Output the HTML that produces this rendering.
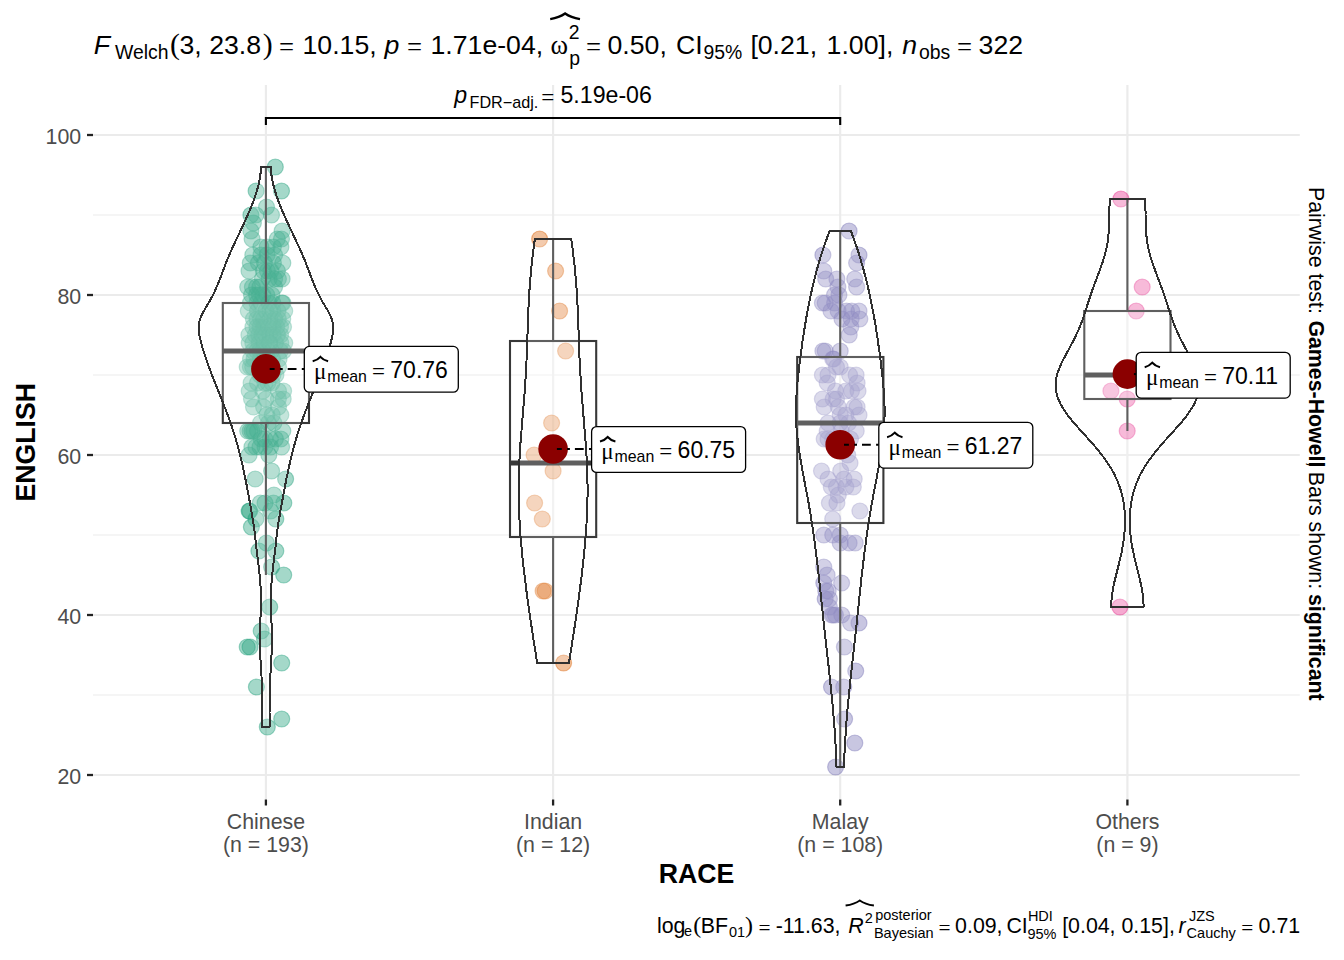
<!DOCTYPE html>
<html><head><meta charset="utf-8"><title>ENGLISH by RACE</title>
<style>html,body{margin:0;padding:0;background:#fff}svg text{font-family:"Liberation Sans",Arial,sans-serif}svg text.sf{font-family:"Liberation Serif","Times New Roman",serif}</style>
</head><body>
<svg width="1344" height="960" viewBox="0 0 1344 960" style="display:block">
<rect width="1344" height="960" fill="#fff"/>
<g stroke="#EBEBEB" fill="none">
<line x1="93.0" x2="1299.8" y1="695.0" y2="695.0" stroke-width="1.2"/>
<line x1="93.0" x2="1299.8" y1="535.0" y2="535.0" stroke-width="1.2"/>
<line x1="93.0" x2="1299.8" y1="375.0" y2="375.0" stroke-width="1.2"/>
<line x1="93.0" x2="1299.8" y1="215.0" y2="215.0" stroke-width="1.2"/>
<line x1="93.0" x2="1299.8" y1="775.0" y2="775.0" stroke-width="2.15"/>
<line x1="93.0" x2="1299.8" y1="615.0" y2="615.0" stroke-width="2.15"/>
<line x1="93.0" x2="1299.8" y1="455.0" y2="455.0" stroke-width="2.15"/>
<line x1="93.0" x2="1299.8" y1="295.0" y2="295.0" stroke-width="2.15"/>
<line x1="93.0" x2="1299.8" y1="135.0" y2="135.0" stroke-width="2.15"/>
<line x1="265.9" x2="265.9" y1="85.0" y2="799.5" stroke-width="2.15"/>
<line x1="553.1" x2="553.1" y1="85.0" y2="799.5" stroke-width="2.15"/>
<line x1="840.2" x2="840.2" y1="85.0" y2="799.5" stroke-width="2.15"/>
<line x1="1127.4" x2="1127.4" y1="85.0" y2="799.5" stroke-width="2.15"/>
</g>
<g stroke="#222" stroke-width="2.3">
<line x1="87.0" x2="93.0" y1="775.0" y2="775.0"/>
<line x1="87.0" x2="93.0" y1="615.0" y2="615.0"/>
<line x1="87.0" x2="93.0" y1="455.0" y2="455.0"/>
<line x1="87.0" x2="93.0" y1="295.0" y2="295.0"/>
<line x1="87.0" x2="93.0" y1="135.0" y2="135.0"/>
<line x1="265.9" x2="265.9" y1="799.5" y2="805.5"/>
<line x1="553.1" x2="553.1" y1="799.5" y2="805.5"/>
<line x1="840.2" x2="840.2" y1="799.5" y2="805.5"/>
<line x1="1127.4" x2="1127.4" y1="799.5" y2="805.5"/>
</g>
<g fill="#1B9E77" fill-opacity="0.4" stroke="#1B9E77" stroke-opacity="0.4" stroke-width="1.2">
<circle cx="275.3" cy="167.0" r="8.0"/>
<circle cx="256.1" cy="191.0" r="8.0"/>
<circle cx="281.5" cy="191.0" r="8.0"/>
<circle cx="266.5" cy="207.0" r="8.0"/>
<circle cx="250.9" cy="215.0" r="8.0"/>
<circle cx="255.9" cy="215.0" r="8.0"/>
<circle cx="271.5" cy="215.0" r="8.0"/>
<circle cx="253.4" cy="223.0" r="8.0"/>
<circle cx="250.9" cy="231.0" r="8.0"/>
<circle cx="282.1" cy="231.0" r="8.0"/>
<circle cx="252.1" cy="239.0" r="8.0"/>
<circle cx="281.5" cy="239.0" r="8.0"/>
<circle cx="277.3" cy="239.0" r="8.0"/>
<circle cx="260.9" cy="247.0" r="8.0"/>
<circle cx="267.1" cy="247.0" r="8.0"/>
<circle cx="273.4" cy="247.0" r="8.0"/>
<circle cx="280.9" cy="247.0" r="8.0"/>
<circle cx="252.8" cy="255.0" r="8.0"/>
<circle cx="260.9" cy="255.0" r="8.0"/>
<circle cx="267.1" cy="255.0" r="8.0"/>
<circle cx="274.6" cy="255.0" r="8.0"/>
<circle cx="250.3" cy="263.0" r="8.0"/>
<circle cx="258.4" cy="263.0" r="8.0"/>
<circle cx="273.4" cy="263.0" r="8.0"/>
<circle cx="282.8" cy="263.0" r="8.0"/>
<circle cx="264.4" cy="263.0" r="8.0"/>
<circle cx="249.0" cy="271.0" r="8.0"/>
<circle cx="263.4" cy="271.0" r="8.0"/>
<circle cx="270.9" cy="271.0" r="8.0"/>
<circle cx="277.4" cy="271.0" r="8.0"/>
<circle cx="267.4" cy="271.0" r="8.0"/>
<circle cx="269.1" cy="279.0" r="8.0"/>
<circle cx="274.6" cy="279.0" r="8.0"/>
<circle cx="262.4" cy="279.0" r="8.0"/>
<circle cx="278.4" cy="279.0" r="8.0"/>
<circle cx="282.1" cy="279.0" r="8.0"/>
<circle cx="247.7" cy="287.0" r="8.0"/>
<circle cx="252.4" cy="287.0" r="8.0"/>
<circle cx="256.6" cy="287.0" r="8.0"/>
<circle cx="259.9" cy="287.0" r="8.0"/>
<circle cx="274.6" cy="287.0" r="8.0"/>
<circle cx="251.5" cy="295.0" r="8.0"/>
<circle cx="256.6" cy="295.0" r="8.0"/>
<circle cx="262.9" cy="295.0" r="8.0"/>
<circle cx="266.8" cy="295.0" r="8.0"/>
<circle cx="259.4" cy="295.0" r="8.0"/>
<circle cx="271.9" cy="295.0" r="8.0"/>
<circle cx="250.4" cy="303.0" r="8.0"/>
<circle cx="260.9" cy="303.0" r="8.0"/>
<circle cx="281.9" cy="303.0" r="8.0"/>
<circle cx="282.9" cy="303.0" r="8.0"/>
<circle cx="256.9" cy="303.0" r="8.0"/>
<circle cx="268.9" cy="303.0" r="8.0"/>
<circle cx="272.8" cy="303.0" r="8.0"/>
<circle cx="248.3" cy="311.0" r="8.0"/>
<circle cx="257.5" cy="311.0" r="8.0"/>
<circle cx="265.9" cy="311.0" r="8.0"/>
<circle cx="284.7" cy="311.0" r="8.0"/>
<circle cx="272.9" cy="311.0" r="8.0"/>
<circle cx="277.9" cy="311.0" r="8.0"/>
<circle cx="269.9" cy="311.0" r="8.0"/>
<circle cx="263.5" cy="319.0" r="8.0"/>
<circle cx="260.5" cy="319.0" r="8.0"/>
<circle cx="274.7" cy="319.0" r="8.0"/>
<circle cx="269.9" cy="319.0" r="8.0"/>
<circle cx="282.7" cy="319.0" r="8.0"/>
<circle cx="253.4" cy="319.0" r="8.0"/>
<circle cx="278.3" cy="319.0" r="8.0"/>
<circle cx="257.0" cy="319.0" r="8.0"/>
<circle cx="276.7" cy="327.0" r="8.0"/>
<circle cx="283.5" cy="327.0" r="8.0"/>
<circle cx="268.5" cy="327.0" r="8.0"/>
<circle cx="257.0" cy="327.0" r="8.0"/>
<circle cx="263.6" cy="327.0" r="8.0"/>
<circle cx="260.2" cy="327.0" r="8.0"/>
<circle cx="252.9" cy="327.0" r="8.0"/>
<circle cx="280.5" cy="327.0" r="8.0"/>
<circle cx="273.1" cy="327.0" r="8.0"/>
<circle cx="280.6" cy="335.0" r="8.0"/>
<circle cx="273.0" cy="335.0" r="8.0"/>
<circle cx="269.6" cy="335.0" r="8.0"/>
<circle cx="255.3" cy="335.0" r="8.0"/>
<circle cx="277.5" cy="335.0" r="8.0"/>
<circle cx="261.9" cy="335.0" r="8.0"/>
<circle cx="265.6" cy="335.0" r="8.0"/>
<circle cx="248.9" cy="335.0" r="8.0"/>
<circle cx="258.7" cy="335.0" r="8.0"/>
<circle cx="280.8" cy="343.0" r="8.0"/>
<circle cx="275.4" cy="343.0" r="8.0"/>
<circle cx="259.1" cy="343.0" r="8.0"/>
<circle cx="284.7" cy="343.0" r="8.0"/>
<circle cx="252.8" cy="343.0" r="8.0"/>
<circle cx="263.9" cy="343.0" r="8.0"/>
<circle cx="269.6" cy="343.0" r="8.0"/>
<circle cx="249.2" cy="343.0" r="8.0"/>
<circle cx="269.4" cy="343.0" r="8.0"/>
<circle cx="253.0" cy="351.0" r="8.0"/>
<circle cx="256.7" cy="351.0" r="8.0"/>
<circle cx="271.6" cy="351.0" r="8.0"/>
<circle cx="283.5" cy="351.0" r="8.0"/>
<circle cx="263.1" cy="351.0" r="8.0"/>
<circle cx="280.2" cy="351.0" r="8.0"/>
<circle cx="259.8" cy="351.0" r="8.0"/>
<circle cx="267.8" cy="351.0" r="8.0"/>
<circle cx="260.4" cy="359.0" r="8.0"/>
<circle cx="254.0" cy="359.0" r="8.0"/>
<circle cx="272.5" cy="359.0" r="8.0"/>
<circle cx="268.2" cy="359.0" r="8.0"/>
<circle cx="250.5" cy="359.0" r="8.0"/>
<circle cx="264.4" cy="359.0" r="8.0"/>
<circle cx="279.0" cy="359.0" r="8.0"/>
<circle cx="247.2" cy="367.0" r="8.0"/>
<circle cx="250.4" cy="367.0" r="8.0"/>
<circle cx="252.7" cy="367.0" r="8.0"/>
<circle cx="263.9" cy="367.0" r="8.0"/>
<circle cx="268.9" cy="367.0" r="8.0"/>
<circle cx="271.9" cy="367.0" r="8.0"/>
<circle cx="278.5" cy="367.0" r="8.0"/>
<circle cx="262.9" cy="375.0" r="8.0"/>
<circle cx="265.9" cy="375.0" r="8.0"/>
<circle cx="269.9" cy="375.0" r="8.0"/>
<circle cx="272.9" cy="375.0" r="8.0"/>
<circle cx="259.9" cy="375.0" r="8.0"/>
<circle cx="275.9" cy="375.0" r="8.0"/>
<circle cx="251.1" cy="383.0" r="8.0"/>
<circle cx="257.5" cy="383.0" r="8.0"/>
<circle cx="267.9" cy="383.0" r="8.0"/>
<circle cx="271.9" cy="383.0" r="8.0"/>
<circle cx="264.9" cy="383.0" r="8.0"/>
<circle cx="249.2" cy="391.0" r="8.0"/>
<circle cx="278.5" cy="391.0" r="8.0"/>
<circle cx="283.6" cy="391.0" r="8.0"/>
<circle cx="262.9" cy="391.0" r="8.0"/>
<circle cx="251.5" cy="399.0" r="8.0"/>
<circle cx="265.9" cy="399.0" r="8.0"/>
<circle cx="283.2" cy="399.0" r="8.0"/>
<circle cx="278.4" cy="399.0" r="8.0"/>
<circle cx="253.5" cy="407.0" r="8.0"/>
<circle cx="263.6" cy="407.0" r="8.0"/>
<circle cx="278.5" cy="407.0" r="8.0"/>
<circle cx="266.8" cy="415.0" r="8.0"/>
<circle cx="272.2" cy="415.0" r="8.0"/>
<circle cx="280.8" cy="415.0" r="8.0"/>
<circle cx="260.5" cy="423.0" r="8.0"/>
<circle cx="268.4" cy="423.0" r="8.0"/>
<circle cx="273.9" cy="423.0" r="8.0"/>
<circle cx="247.7" cy="431.0" r="8.0"/>
<circle cx="250.0" cy="431.0" r="8.0"/>
<circle cx="253.8" cy="431.0" r="8.0"/>
<circle cx="257.5" cy="431.0" r="8.0"/>
<circle cx="282.8" cy="431.0" r="8.0"/>
<circle cx="251.9" cy="431.0" r="8.0"/>
<circle cx="261.2" cy="439.0" r="8.0"/>
<circle cx="280.9" cy="439.0" r="8.0"/>
<circle cx="264.9" cy="439.0" r="8.0"/>
<circle cx="270.4" cy="439.0" r="8.0"/>
<circle cx="275.4" cy="439.0" r="8.0"/>
<circle cx="251.9" cy="447.0" r="8.0"/>
<circle cx="259.9" cy="447.0" r="8.0"/>
<circle cx="265.0" cy="447.0" r="8.0"/>
<circle cx="270.6" cy="447.0" r="8.0"/>
<circle cx="281.6" cy="447.0" r="8.0"/>
<circle cx="255.9" cy="447.0" r="8.0"/>
<circle cx="249.1" cy="455.0" r="8.0"/>
<circle cx="268.8" cy="455.0" r="8.0"/>
<circle cx="271.6" cy="471.0" r="8.0"/>
<circle cx="255.2" cy="479.0" r="8.0"/>
<circle cx="285.6" cy="479.0" r="8.0"/>
<circle cx="273.9" cy="495.0" r="8.0"/>
<circle cx="260.3" cy="503.0" r="8.0"/>
<circle cx="265.0" cy="503.0" r="8.0"/>
<circle cx="273.4" cy="503.0" r="8.0"/>
<circle cx="283.8" cy="503.0" r="8.0"/>
<circle cx="249.1" cy="511.0" r="8.0"/>
<circle cx="249.7" cy="511.0" r="8.0"/>
<circle cx="270.6" cy="511.0" r="8.0"/>
<circle cx="255.9" cy="519.0" r="8.0"/>
<circle cx="275.8" cy="519.0" r="8.0"/>
<circle cx="251.4" cy="527.0" r="8.0"/>
<circle cx="266.4" cy="543.0" r="8.0"/>
<circle cx="258.9" cy="551.0" r="8.0"/>
<circle cx="275.8" cy="551.0" r="8.0"/>
<circle cx="271.6" cy="567.0" r="8.0"/>
<circle cx="283.7" cy="575.0" r="8.0"/>
<circle cx="269.7" cy="607.0" r="8.0"/>
<circle cx="261.2" cy="631.0" r="8.0"/>
<circle cx="264.5" cy="639.0" r="8.0"/>
<circle cx="247.2" cy="647.0" r="8.0"/>
<circle cx="250.0" cy="647.0" r="8.0"/>
<circle cx="281.7" cy="663.0" r="8.0"/>
<circle cx="256.4" cy="687.0" r="8.0"/>
<circle cx="281.7" cy="719.0" r="8.0"/>
<circle cx="267.3" cy="727.0" r="8.0"/>
</g>
<g fill="#D95F02" fill-opacity="0.4" stroke="#D95F02" stroke-opacity="0.4" stroke-width="1.2">
<circle cx="539.6" cy="239.0" r="8.0"/>
<circle cx="555.6" cy="271.0" r="8.0"/>
<circle cx="559.6" cy="311.0" r="8.0"/>
<circle cx="565.6" cy="351.0" r="8.0"/>
<circle cx="551.6" cy="423.0" r="8.0"/>
<circle cx="534.1" cy="455.0" r="8.0"/>
<circle cx="553.1" cy="471.0" r="8.0"/>
<circle cx="534.6" cy="503.0" r="8.0"/>
<circle cx="542.3" cy="519.0" r="8.0"/>
<circle cx="543.1" cy="591.0" r="8.0"/>
<circle cx="545.1" cy="591.0" r="8.0"/>
<circle cx="563.6" cy="663.0" r="8.0"/>
</g>
<g fill="#7570B3" fill-opacity="0.4" stroke="#7570B3" stroke-opacity="0.4" stroke-width="1.2">
<circle cx="849.1" cy="231.0" r="8.0"/>
<circle cx="822.9" cy="255.0" r="8.0"/>
<circle cx="859.0" cy="255.0" r="8.0"/>
<circle cx="856.6" cy="263.0" r="8.0"/>
<circle cx="823.8" cy="271.0" r="8.0"/>
<circle cx="825.7" cy="279.0" r="8.0"/>
<circle cx="836.9" cy="279.0" r="8.0"/>
<circle cx="854.7" cy="279.0" r="8.0"/>
<circle cx="837.9" cy="287.0" r="8.0"/>
<circle cx="856.6" cy="287.0" r="8.0"/>
<circle cx="834.5" cy="295.0" r="8.0"/>
<circle cx="838.9" cy="295.0" r="8.0"/>
<circle cx="822.4" cy="303.0" r="8.0"/>
<circle cx="825.2" cy="303.0" r="8.0"/>
<circle cx="834.6" cy="303.0" r="8.0"/>
<circle cx="831.0" cy="311.0" r="8.0"/>
<circle cx="838.1" cy="311.0" r="8.0"/>
<circle cx="846.5" cy="311.0" r="8.0"/>
<circle cx="851.7" cy="311.0" r="8.0"/>
<circle cx="859.0" cy="311.0" r="8.0"/>
<circle cx="842.0" cy="319.0" r="8.0"/>
<circle cx="851.2" cy="319.0" r="8.0"/>
<circle cx="859.8" cy="319.0" r="8.0"/>
<circle cx="850.8" cy="327.0" r="8.0"/>
<circle cx="849.2" cy="335.0" r="8.0"/>
<circle cx="822.9" cy="351.0" r="8.0"/>
<circle cx="825.2" cy="351.0" r="8.0"/>
<circle cx="840.2" cy="351.0" r="8.0"/>
<circle cx="832.7" cy="359.0" r="8.0"/>
<circle cx="833.7" cy="359.0" r="8.0"/>
<circle cx="836.5" cy="367.0" r="8.0"/>
<circle cx="840.2" cy="367.0" r="8.0"/>
<circle cx="822.4" cy="375.0" r="8.0"/>
<circle cx="828.0" cy="375.0" r="8.0"/>
<circle cx="849.6" cy="375.0" r="8.0"/>
<circle cx="856.1" cy="375.0" r="8.0"/>
<circle cx="827.2" cy="383.0" r="8.0"/>
<circle cx="857.1" cy="383.0" r="8.0"/>
<circle cx="835.5" cy="391.0" r="8.0"/>
<circle cx="845.8" cy="391.0" r="8.0"/>
<circle cx="851.5" cy="391.0" r="8.0"/>
<circle cx="858.0" cy="391.0" r="8.0"/>
<circle cx="822.4" cy="399.0" r="8.0"/>
<circle cx="833.2" cy="399.0" r="8.0"/>
<circle cx="836.5" cy="399.0" r="8.0"/>
<circle cx="824.2" cy="407.0" r="8.0"/>
<circle cx="838.3" cy="407.0" r="8.0"/>
<circle cx="854.2" cy="407.0" r="8.0"/>
<circle cx="857.1" cy="407.0" r="8.0"/>
<circle cx="840.2" cy="415.0" r="8.0"/>
<circle cx="845.8" cy="415.0" r="8.0"/>
<circle cx="859.0" cy="415.0" r="8.0"/>
<circle cx="828.0" cy="423.0" r="8.0"/>
<circle cx="840.2" cy="423.0" r="8.0"/>
<circle cx="848.6" cy="423.0" r="8.0"/>
<circle cx="827.2" cy="431.0" r="8.0"/>
<circle cx="841.2" cy="431.0" r="8.0"/>
<circle cx="856.2" cy="431.0" r="8.0"/>
<circle cx="824.2" cy="439.0" r="8.0"/>
<circle cx="828.0" cy="439.0" r="8.0"/>
<circle cx="832.7" cy="439.0" r="8.0"/>
<circle cx="850.5" cy="439.0" r="8.0"/>
<circle cx="843.2" cy="439.0" r="8.0"/>
<circle cx="837.2" cy="447.0" r="8.0"/>
<circle cx="847.7" cy="455.0" r="8.0"/>
<circle cx="850.0" cy="463.0" r="8.0"/>
<circle cx="821.5" cy="471.0" r="8.0"/>
<circle cx="840.7" cy="471.0" r="8.0"/>
<circle cx="828.0" cy="479.0" r="8.0"/>
<circle cx="844.0" cy="479.0" r="8.0"/>
<circle cx="854.2" cy="479.0" r="8.0"/>
<circle cx="831.3" cy="487.0" r="8.0"/>
<circle cx="836.5" cy="487.0" r="8.0"/>
<circle cx="845.8" cy="487.0" r="8.0"/>
<circle cx="853.3" cy="487.0" r="8.0"/>
<circle cx="838.3" cy="495.0" r="8.0"/>
<circle cx="829.4" cy="503.0" r="8.0"/>
<circle cx="836.9" cy="503.0" r="8.0"/>
<circle cx="859.9" cy="511.0" r="8.0"/>
<circle cx="832.7" cy="519.0" r="8.0"/>
<circle cx="823.8" cy="535.0" r="8.0"/>
<circle cx="832.7" cy="535.0" r="8.0"/>
<circle cx="840.2" cy="535.0" r="8.0"/>
<circle cx="840.2" cy="543.0" r="8.0"/>
<circle cx="849.1" cy="543.0" r="8.0"/>
<circle cx="855.2" cy="543.0" r="8.0"/>
<circle cx="823.8" cy="567.0" r="8.0"/>
<circle cx="827.1" cy="575.0" r="8.0"/>
<circle cx="823.8" cy="583.0" r="8.0"/>
<circle cx="841.6" cy="583.0" r="8.0"/>
<circle cx="825.8" cy="591.0" r="8.0"/>
<circle cx="828.2" cy="591.0" r="8.0"/>
<circle cx="825.2" cy="599.0" r="8.0"/>
<circle cx="829.4" cy="599.0" r="8.0"/>
<circle cx="829.4" cy="607.0" r="8.0"/>
<circle cx="831.7" cy="615.0" r="8.0"/>
<circle cx="835.4" cy="615.0" r="8.0"/>
<circle cx="841.7" cy="615.0" r="8.0"/>
<circle cx="833.2" cy="615.0" r="8.0"/>
<circle cx="850.5" cy="623.0" r="8.0"/>
<circle cx="859.0" cy="623.0" r="8.0"/>
<circle cx="844.4" cy="647.0" r="8.0"/>
<circle cx="855.7" cy="671.0" r="8.0"/>
<circle cx="831.5" cy="687.0" r="8.0"/>
<circle cx="843.7" cy="687.0" r="8.0"/>
<circle cx="844.6" cy="719.0" r="8.0"/>
<circle cx="854.8" cy="743.0" r="8.0"/>
<circle cx="835.6" cy="767.0" r="8.0"/>
</g>
<g fill="#E7298A" fill-opacity="0.4" stroke="#E7298A" stroke-opacity="0.4" stroke-width="1.2">
<circle cx="1120.9" cy="199.0" r="8.0"/>
<circle cx="1142.2" cy="287.0" r="8.0"/>
<circle cx="1136.2" cy="311.0" r="8.0"/>
<circle cx="1110.9" cy="391.0" r="8.0"/>
<circle cx="1127.2" cy="399.0" r="8.0"/>
<circle cx="1127.2" cy="431.0" r="8.0"/>
<circle cx="1119.9" cy="607.0" r="8.0"/>
<circle cx="1127.9" cy="375.0" r="8.0"/>
<circle cx="1145.4" cy="367.0" r="8.0"/>
</g>
<g stroke="#383838" stroke-width="2.1" fill="none">
<line x1="265.9" x2="265.9" y1="167.0" y2="303.0"/>
<line x1="265.9" x2="265.9" y1="575.0" y2="423.0"/>
<rect x="222.8" y="303.0" width="86.2" height="120.0" fill="#fff" fill-opacity="0.2"/>
<line x1="222.8" x2="309.0" y1="351.0" y2="351.0" stroke-width="5"/>
</g>
<g stroke="#383838" stroke-width="2.1" fill="none">
<line x1="553.1" x2="553.1" y1="239.0" y2="341.0"/>
<line x1="553.1" x2="553.1" y1="663.0" y2="537.0"/>
<rect x="510.0" y="341.0" width="86.2" height="196.0" fill="#fff" fill-opacity="0.2"/>
<line x1="510.0" x2="596.1" y1="463.0" y2="463.0" stroke-width="5"/>
</g>
<g stroke="#383838" stroke-width="2.1" fill="none">
<line x1="840.2" x2="840.2" y1="231.0" y2="357.0"/>
<line x1="840.2" x2="840.2" y1="767.0" y2="523.0"/>
<rect x="797.2" y="357.0" width="86.2" height="166.0" fill="#fff" fill-opacity="0.2"/>
<line x1="797.2" x2="883.3" y1="423.0" y2="423.0" stroke-width="5"/>
</g>
<g stroke="#383838" stroke-width="2.1" fill="none">
<line x1="1127.4" x2="1127.4" y1="199.0" y2="311.0"/>
<line x1="1127.4" x2="1127.4" y1="431.0" y2="399.0"/>
<rect x="1084.3" y="311.0" width="86.2" height="88.0" fill="#fff" fill-opacity="0.2"/>
<line x1="1084.3" x2="1170.5" y1="375.0" y2="375.0" stroke-width="5"/>
</g>
<path d="M262.3,727.0 L262.3,724.2 L262.3,721.4 L262.3,718.6 L262.3,715.7 L262.3,712.9 L262.2,710.1 L262.2,707.3 L262.2,704.5 L262.2,701.7 L262.2,698.9 L262.1,696.0 L262.1,693.2 L262.0,690.4 L261.9,687.6 L261.8,684.8 L261.7,682.0 L261.6,679.2 L261.5,676.3 L261.3,673.5 L261.2,670.7 L261.0,667.9 L260.8,665.1 L260.7,662.3 L260.5,659.5 L260.4,656.6 L260.2,653.8 L260.1,651.0 L260.0,648.2 L259.9,645.4 L259.9,642.6 L259.9,639.8 L260.0,636.9 L260.0,634.1 L260.1,631.3 L260.2,628.5 L260.2,625.7 L260.3,622.9 L260.4,620.1 L260.5,617.3 L260.6,614.4 L260.7,611.6 L260.8,608.8 L260.9,606.0 L261.0,603.2 L261.0,600.4 L261.0,597.6 L260.9,594.7 L260.8,591.9 L260.7,589.1 L260.5,586.3 L260.3,583.5 L260.1,580.7 L259.8,577.9 L259.6,575.0 L259.3,572.2 L259.0,569.4 L258.7,566.6 L258.4,563.8 L258.0,561.0 L257.7,558.2 L257.3,555.3 L257.0,552.5 L256.6,549.7 L256.3,546.9 L256.0,544.1 L255.7,541.3 L255.4,538.5 L255.1,535.6 L254.7,532.8 L254.4,530.0 L254.0,527.2 L253.6,524.4 L253.2,521.6 L252.7,518.8 L252.2,515.9 L251.7,513.1 L251.3,510.3 L250.8,507.5 L250.3,504.7 L249.8,501.9 L249.2,499.1 L248.7,496.2 L248.2,493.4 L247.7,490.6 L247.1,487.8 L246.6,485.0 L246.0,482.2 L245.5,479.4 L244.9,476.5 L244.3,473.7 L243.7,470.9 L243.1,468.1 L242.5,465.3 L241.8,462.5 L241.2,459.7 L240.5,456.8 L239.8,454.0 L239.1,451.2 L238.3,448.4 L237.6,445.6 L236.8,442.8 L236.0,440.0 L235.2,437.2 L234.3,434.3 L233.4,431.5 L232.5,428.7 L231.6,425.9 L230.6,423.1 L229.6,420.3 L228.6,417.5 L227.6,414.6 L226.5,411.8 L225.4,409.0 L224.3,406.2 L223.2,403.4 L222.1,400.6 L221.0,397.8 L219.9,394.9 L218.7,392.1 L217.6,389.3 L216.5,386.5 L215.3,383.7 L214.2,380.9 L213.1,378.1 L212.0,375.2 L211.0,372.4 L209.9,369.6 L208.9,366.8 L207.8,364.0 L206.8,361.2 L205.9,358.4 L204.9,355.5 L204.0,352.7 L203.2,349.9 L202.3,347.1 L201.5,344.3 L200.8,341.5 L200.1,338.7 L199.5,335.8 L199.0,333.0 L198.7,330.2 L198.6,327.4 L198.8,324.6 L199.3,321.8 L200.1,319.0 L201.3,316.1 L202.6,313.3 L204.1,310.5 L205.8,307.7 L207.4,304.9 L209.1,302.1 L210.7,299.3 L212.2,296.4 L213.6,293.6 L215.0,290.8 L216.2,288.0 L217.4,285.2 L218.6,282.4 L219.7,279.6 L220.8,276.7 L221.8,273.9 L222.9,271.1 L224.0,268.3 L225.0,265.5 L226.1,262.7 L227.2,259.9 L228.4,257.1 L229.6,254.2 L230.8,251.4 L232.1,248.6 L233.4,245.8 L234.7,243.0 L236.0,240.2 L237.3,237.4 L238.7,234.5 L240.0,231.7 L241.3,228.9 L242.6,226.1 L244.0,223.3 L245.3,220.5 L246.5,217.7 L247.8,214.8 L249.0,212.0 L250.2,209.2 L251.4,206.4 L252.5,203.6 L253.5,200.8 L254.5,198.0 L255.5,195.1 L256.4,192.3 L257.2,189.5 L258.0,186.7 L258.7,183.9 L259.3,181.1 L259.8,178.3 L260.3,175.4 L260.6,172.6 L260.9,169.8 L261.0,167.0 L270.8,167.0 L270.9,169.8 L271.2,172.6 L271.5,175.4 L272.0,178.3 L272.5,181.1 L273.1,183.9 L273.8,186.7 L274.6,189.5 L275.4,192.3 L276.3,195.1 L277.3,198.0 L278.3,200.8 L279.3,203.6 L280.4,206.4 L281.6,209.2 L282.8,212.0 L284.0,214.8 L285.3,217.7 L286.5,220.5 L287.8,223.3 L289.2,226.1 L290.5,228.9 L291.8,231.7 L293.1,234.5 L294.5,237.4 L295.8,240.2 L297.1,243.0 L298.4,245.8 L299.7,248.6 L301.0,251.4 L302.2,254.2 L303.4,257.1 L304.6,259.9 L305.7,262.7 L306.8,265.5 L307.8,268.3 L308.9,271.1 L310.0,273.9 L311.0,276.7 L312.1,279.6 L313.2,282.4 L314.4,285.2 L315.6,288.0 L316.8,290.8 L318.2,293.6 L319.6,296.4 L321.1,299.3 L322.7,302.1 L324.4,304.9 L326.0,307.7 L327.7,310.5 L329.2,313.3 L330.5,316.1 L331.7,319.0 L332.5,321.8 L333.0,324.6 L333.2,327.4 L333.1,330.2 L332.8,333.0 L332.3,335.8 L331.7,338.7 L331.0,341.5 L330.3,344.3 L329.5,347.1 L328.6,349.9 L327.8,352.7 L326.9,355.5 L325.9,358.4 L325.0,361.2 L324.0,364.0 L322.9,366.8 L321.9,369.6 L320.8,372.4 L319.8,375.2 L318.7,378.1 L317.6,380.9 L316.5,383.7 L315.3,386.5 L314.2,389.3 L313.1,392.1 L311.9,394.9 L310.8,397.8 L309.7,400.6 L308.6,403.4 L307.5,406.2 L306.4,409.0 L305.3,411.8 L304.2,414.6 L303.2,417.5 L302.2,420.3 L301.2,423.1 L300.2,425.9 L299.3,428.7 L298.4,431.5 L297.5,434.3 L296.6,437.2 L295.8,440.0 L295.0,442.8 L294.2,445.6 L293.5,448.4 L292.7,451.2 L292.0,454.0 L291.3,456.8 L290.6,459.7 L290.0,462.5 L289.3,465.3 L288.7,468.1 L288.1,470.9 L287.5,473.7 L286.9,476.5 L286.3,479.4 L285.8,482.2 L285.2,485.0 L284.7,487.8 L284.1,490.6 L283.6,493.4 L283.1,496.2 L282.6,499.1 L282.0,501.9 L281.5,504.7 L281.0,507.5 L280.5,510.3 L280.1,513.1 L279.6,515.9 L279.1,518.8 L278.6,521.6 L278.2,524.4 L277.8,527.2 L277.4,530.0 L277.1,532.8 L276.7,535.6 L276.4,538.5 L276.1,541.3 L275.8,544.1 L275.5,546.9 L275.2,549.7 L274.8,552.5 L274.5,555.3 L274.1,558.2 L273.8,561.0 L273.4,563.8 L273.1,566.6 L272.8,569.4 L272.5,572.2 L272.2,575.0 L272.0,577.9 L271.7,580.7 L271.5,583.5 L271.3,586.3 L271.1,589.1 L271.0,591.9 L270.9,594.7 L270.8,597.6 L270.8,600.4 L270.8,603.2 L270.9,606.0 L271.0,608.8 L271.1,611.6 L271.2,614.4 L271.3,617.3 L271.4,620.1 L271.5,622.9 L271.6,625.7 L271.6,628.5 L271.7,631.3 L271.8,634.1 L271.8,636.9 L271.9,639.8 L271.9,642.6 L271.9,645.4 L271.8,648.2 L271.7,651.0 L271.6,653.8 L271.4,656.6 L271.3,659.5 L271.1,662.3 L271.0,665.1 L270.8,667.9 L270.6,670.7 L270.5,673.5 L270.3,676.3 L270.2,679.2 L270.1,682.0 L270.0,684.8 L269.9,687.6 L269.8,690.4 L269.7,693.2 L269.7,696.0 L269.6,698.9 L269.6,701.7 L269.6,704.5 L269.6,707.3 L269.6,710.1 L269.5,712.9 L269.5,715.7 L269.5,718.6 L269.5,721.4 L269.5,724.2 L269.5,727.0Z" fill="#fff" fill-opacity="0.2" stroke="#303030" stroke-width="2.0" stroke-linejoin="round" shape-rendering="crispEdges"/>
<path d="M537.2,663.0 L536.7,659.7 L536.1,656.4 L535.6,653.0 L535.1,649.7 L534.6,646.4 L534.0,643.1 L533.5,639.8 L533.0,636.4 L532.5,633.1 L532.0,629.8 L531.5,626.5 L531.0,623.2 L530.5,619.9 L530.0,616.5 L529.5,613.2 L529.0,609.9 L528.6,606.6 L528.1,603.3 L527.7,599.9 L527.2,596.6 L526.8,593.3 L526.3,590.0 L525.9,586.7 L525.5,583.3 L525.1,580.0 L524.7,576.7 L524.3,573.4 L523.9,570.1 L523.5,566.7 L523.1,563.4 L522.8,560.1 L522.4,556.8 L522.1,553.5 L521.8,550.2 L521.5,546.8 L521.2,543.5 L520.9,540.2 L520.6,536.9 L520.4,533.6 L520.1,530.2 L519.9,526.9 L519.7,523.6 L519.5,520.3 L519.3,517.0 L519.2,513.6 L519.0,510.3 L518.9,507.0 L518.8,503.7 L518.7,500.4 L518.7,497.1 L518.6,493.7 L518.6,490.4 L518.6,487.1 L518.7,483.8 L518.7,480.5 L518.8,477.1 L518.9,473.8 L519.0,470.5 L519.1,467.2 L519.2,463.9 L519.4,460.5 L519.6,457.2 L519.8,453.9 L520.0,450.6 L520.2,447.3 L520.4,443.9 L520.7,440.6 L520.9,437.3 L521.2,434.0 L521.5,430.7 L521.7,427.4 L522.0,424.0 L522.3,420.7 L522.6,417.4 L522.9,414.1 L523.1,410.8 L523.4,407.4 L523.7,404.1 L523.9,400.8 L524.2,397.5 L524.5,394.2 L524.7,390.8 L524.9,387.5 L525.2,384.2 L525.4,380.9 L525.6,377.6 L525.8,374.2 L526.0,370.9 L526.1,367.6 L526.3,364.3 L526.5,361.0 L526.6,357.7 L526.7,354.3 L526.9,351.0 L527.0,347.7 L527.1,344.4 L527.2,341.1 L527.4,337.7 L527.5,334.4 L527.6,331.1 L527.7,327.8 L527.8,324.5 L527.9,321.1 L528.1,317.8 L528.2,314.5 L528.3,311.2 L528.5,307.9 L528.6,304.5 L528.8,301.2 L529.0,297.9 L529.2,294.6 L529.4,291.3 L529.6,288.0 L529.9,284.6 L530.1,281.3 L530.4,278.0 L530.7,274.7 L531.0,271.4 L531.3,268.0 L531.7,264.7 L532.0,261.4 L532.4,258.1 L532.8,254.8 L533.2,251.4 L533.6,248.1 L534.1,244.8 L534.5,241.5 L534.9,239.0 L571.3,239.0 L571.6,241.5 L572.1,244.8 L572.5,248.1 L572.9,251.4 L573.3,254.8 L573.7,258.1 L574.1,261.4 L574.5,264.7 L574.8,268.0 L575.1,271.4 L575.4,274.7 L575.7,278.0 L576.0,281.3 L576.3,284.6 L576.5,288.0 L576.7,291.3 L577.0,294.6 L577.1,297.9 L577.3,301.2 L577.5,304.5 L577.7,307.9 L577.8,311.2 L578.0,314.5 L578.1,317.8 L578.2,321.1 L578.3,324.5 L578.4,327.8 L578.6,331.1 L578.7,334.4 L578.8,337.7 L578.9,341.1 L579.0,344.4 L579.1,347.7 L579.3,351.0 L579.4,354.3 L579.5,357.7 L579.7,361.0 L579.8,364.3 L580.0,367.6 L580.2,370.9 L580.4,374.2 L580.6,377.6 L580.8,380.9 L581.0,384.2 L581.2,387.5 L581.4,390.8 L581.7,394.2 L581.9,397.5 L582.2,400.8 L582.5,404.1 L582.7,407.4 L583.0,410.8 L583.3,414.1 L583.6,417.4 L583.8,420.7 L584.1,424.0 L584.4,427.4 L584.7,430.7 L584.9,434.0 L585.2,437.3 L585.5,440.6 L585.7,443.9 L585.9,447.3 L586.2,450.6 L586.4,453.9 L586.6,457.2 L586.7,460.5 L586.9,463.9 L587.1,467.2 L587.2,470.5 L587.3,473.8 L587.4,477.1 L587.4,480.5 L587.5,483.8 L587.5,487.1 L587.5,490.4 L587.5,493.7 L587.5,497.1 L587.4,500.4 L587.3,503.7 L587.2,507.0 L587.1,510.3 L587.0,513.6 L586.8,517.0 L586.7,520.3 L586.5,523.6 L586.3,526.9 L586.0,530.2 L585.8,533.6 L585.5,536.9 L585.3,540.2 L585.0,543.5 L584.7,546.8 L584.4,550.2 L584.0,553.5 L583.7,556.8 L583.4,560.1 L583.0,563.4 L582.6,566.7 L582.3,570.1 L581.9,573.4 L581.5,576.7 L581.1,580.0 L580.7,583.3 L580.2,586.7 L579.8,590.0 L579.4,593.3 L578.9,596.6 L578.5,599.9 L578.0,603.3 L577.6,606.6 L577.1,609.9 L576.6,613.2 L576.1,616.5 L575.6,619.9 L575.2,623.2 L574.7,626.5 L574.1,629.8 L573.6,633.1 L573.1,636.4 L572.6,639.8 L572.1,643.1 L571.6,646.4 L571.1,649.7 L570.5,653.0 L570.0,656.4 L569.5,659.7 L569.0,663.0Z" fill="#fff" fill-opacity="0.2" stroke="#303030" stroke-width="2.0" stroke-linejoin="round" shape-rendering="crispEdges"/>
<path d="M836.4,767.0 L836.3,764.3 L836.2,761.6 L836.1,758.9 L836.0,756.2 L835.9,753.5 L835.8,750.8 L835.7,748.1 L835.6,745.5 L835.4,742.8 L835.3,740.1 L835.1,737.4 L834.9,734.7 L834.7,732.0 L834.6,729.3 L834.4,726.6 L834.2,723.9 L834.0,721.2 L833.7,718.5 L833.5,715.8 L833.3,713.1 L833.1,710.4 L832.8,707.7 L832.6,705.1 L832.3,702.4 L832.1,699.7 L831.8,697.0 L831.5,694.3 L831.3,691.6 L831.0,688.9 L830.7,686.2 L830.4,683.5 L830.1,680.8 L829.9,678.1 L829.6,675.4 L829.3,672.7 L829.0,670.0 L828.7,667.3 L828.4,664.6 L828.1,662.0 L827.8,659.3 L827.5,656.6 L827.2,653.9 L826.9,651.2 L826.6,648.5 L826.3,645.8 L826.0,643.1 L825.7,640.4 L825.4,637.7 L825.1,635.0 L824.8,632.3 L824.5,629.6 L824.2,626.9 L823.9,624.2 L823.6,621.6 L823.3,618.9 L823.0,616.2 L822.8,613.5 L822.5,610.8 L822.2,608.1 L821.9,605.4 L821.6,602.7 L821.3,600.0 L821.1,597.3 L820.8,594.6 L820.5,591.9 L820.2,589.2 L819.9,586.5 L819.6,583.8 L819.3,581.2 L819.0,578.5 L818.7,575.8 L818.4,573.1 L818.1,570.4 L817.8,567.7 L817.5,565.0 L817.2,562.3 L816.9,559.6 L816.5,556.9 L816.2,554.2 L815.9,551.5 L815.5,548.8 L815.2,546.1 L814.8,543.4 L814.5,540.7 L814.1,538.1 L813.7,535.4 L813.3,532.7 L813.0,530.0 L812.6,527.3 L812.2,524.6 L811.7,521.9 L811.3,519.2 L810.9,516.5 L810.4,513.8 L810.0,511.1 L809.5,508.4 L809.1,505.7 L808.6,503.0 L808.1,500.3 L807.6,497.7 L807.1,495.0 L806.6,492.3 L806.1,489.6 L805.5,486.9 L805.0,484.2 L804.5,481.5 L804.0,478.8 L803.5,476.1 L803.0,473.4 L802.5,470.7 L802.0,468.0 L801.5,465.3 L801.0,462.6 L800.6,459.9 L800.1,457.3 L799.7,454.6 L799.3,451.9 L798.9,449.2 L798.5,446.5 L798.1,443.8 L797.8,441.1 L797.5,438.4 L797.2,435.7 L796.9,433.0 L796.7,430.3 L796.5,427.6 L796.3,424.9 L796.2,422.2 L796.1,419.5 L796.0,416.8 L795.9,414.2 L795.9,411.5 L796.0,408.8 L796.0,406.1 L796.1,403.4 L796.2,400.7 L796.3,398.0 L796.5,395.3 L796.6,392.6 L796.8,389.9 L797.0,387.2 L797.3,384.5 L797.5,381.8 L797.8,379.1 L798.1,376.4 L798.4,373.8 L798.7,371.1 L799.0,368.4 L799.3,365.7 L799.6,363.0 L800.0,360.3 L800.3,357.6 L800.7,354.9 L801.0,352.2 L801.4,349.5 L801.8,346.8 L802.1,344.1 L802.5,341.4 L802.9,338.7 L803.3,336.0 L803.7,333.4 L804.1,330.7 L804.6,328.0 L805.0,325.3 L805.5,322.6 L805.9,319.9 L806.4,317.2 L806.9,314.5 L807.4,311.8 L807.9,309.1 L808.4,306.4 L808.9,303.7 L809.5,301.0 L810.0,298.3 L810.6,295.6 L811.2,292.9 L811.8,290.3 L812.4,287.6 L813.1,284.9 L813.7,282.2 L814.4,279.5 L815.1,276.8 L815.8,274.1 L816.5,271.4 L817.2,268.7 L818.0,266.0 L818.7,263.3 L819.5,260.6 L820.3,257.9 L821.2,255.2 L822.0,252.5 L822.9,249.9 L823.8,247.2 L824.7,244.5 L825.6,241.8 L826.6,239.1 L827.6,236.4 L828.6,233.7 L829.6,231.0 L850.9,231.0 L851.9,233.7 L852.9,236.4 L853.9,239.1 L854.8,241.8 L855.8,244.5 L856.7,247.2 L857.6,249.9 L858.5,252.5 L859.3,255.2 L860.1,257.9 L860.9,260.6 L861.7,263.3 L862.5,266.0 L863.3,268.7 L864.0,271.4 L864.7,274.1 L865.4,276.8 L866.1,279.5 L866.8,282.2 L867.4,284.9 L868.0,287.6 L868.7,290.3 L869.3,292.9 L869.9,295.6 L870.4,298.3 L871.0,301.0 L871.5,303.7 L872.1,306.4 L872.6,309.1 L873.1,311.8 L873.6,314.5 L874.1,317.2 L874.6,319.9 L875.0,322.6 L875.5,325.3 L875.9,328.0 L876.3,330.7 L876.8,333.4 L877.2,336.0 L877.6,338.7 L878.0,341.4 L878.3,344.1 L878.7,346.8 L879.1,349.5 L879.5,352.2 L879.8,354.9 L880.2,357.6 L880.5,360.3 L880.8,363.0 L881.2,365.7 L881.5,368.4 L881.8,371.1 L882.1,373.8 L882.4,376.4 L882.7,379.1 L883.0,381.8 L883.2,384.5 L883.4,387.2 L883.7,389.9 L883.8,392.6 L884.0,395.3 L884.2,398.0 L884.3,400.7 L884.4,403.4 L884.5,406.1 L884.5,408.8 L884.5,411.5 L884.5,414.2 L884.5,416.8 L884.4,419.5 L884.3,422.2 L884.2,424.9 L884.0,427.6 L883.8,430.3 L883.6,433.0 L883.3,435.7 L883.0,438.4 L882.7,441.1 L882.4,443.8 L882.0,446.5 L881.6,449.2 L881.2,451.9 L880.8,454.6 L880.4,457.3 L879.9,459.9 L879.5,462.6 L879.0,465.3 L878.5,468.0 L878.0,470.7 L877.5,473.4 L877.0,476.1 L876.5,478.8 L876.0,481.5 L875.4,484.2 L874.9,486.9 L874.4,489.6 L873.9,492.3 L873.4,495.0 L872.9,497.7 L872.4,500.3 L871.9,503.0 L871.4,505.7 L870.9,508.4 L870.5,511.1 L870.0,513.8 L869.6,516.5 L869.2,519.2 L868.7,521.9 L868.3,524.6 L867.9,527.3 L867.5,530.0 L867.1,532.7 L866.8,535.4 L866.4,538.1 L866.0,540.7 L865.7,543.4 L865.3,546.1 L864.9,548.8 L864.6,551.5 L864.3,554.2 L863.9,556.9 L863.6,559.6 L863.3,562.3 L863.0,565.0 L862.7,567.7 L862.4,570.4 L862.0,573.1 L861.7,575.8 L861.4,578.5 L861.2,581.2 L860.9,583.8 L860.6,586.5 L860.3,589.2 L860.0,591.9 L859.7,594.6 L859.4,597.3 L859.1,600.0 L858.8,602.7 L858.6,605.4 L858.3,608.1 L858.0,610.8 L857.7,613.5 L857.4,616.2 L857.1,618.9 L856.9,621.6 L856.6,624.2 L856.3,626.9 L856.0,629.6 L855.7,632.3 L855.4,635.0 L855.1,637.7 L854.8,640.4 L854.5,643.1 L854.2,645.8 L853.9,648.5 L853.6,651.2 L853.3,653.9 L853.0,656.6 L852.7,659.3 L852.4,662.0 L852.1,664.6 L851.8,667.3 L851.5,670.0 L851.2,672.7 L850.9,675.4 L850.6,678.1 L850.3,680.8 L850.0,683.5 L849.8,686.2 L849.5,688.9 L849.2,691.6 L848.9,694.3 L848.7,697.0 L848.4,699.7 L848.2,702.4 L847.9,705.1 L847.7,707.7 L847.4,710.4 L847.2,713.1 L847.0,715.8 L846.7,718.5 L846.5,721.2 L846.3,723.9 L846.1,726.6 L845.9,729.3 L845.7,732.0 L845.6,734.7 L845.4,737.4 L845.2,740.1 L845.1,742.8 L844.9,745.5 L844.8,748.1 L844.7,750.8 L844.5,753.5 L844.4,756.2 L844.3,758.9 L844.3,761.6 L844.2,764.3 L844.1,767.0Z" fill="#fff" fill-opacity="0.2" stroke="#303030" stroke-width="2.0" stroke-linejoin="round" shape-rendering="crispEdges"/>
<path d="M1111.3,607.0 L1111.3,603.8 L1111.5,600.6 L1111.8,597.4 L1112.2,594.2 L1112.6,591.0 L1113.2,587.8 L1113.8,584.6 L1114.5,581.5 L1115.3,578.3 L1116.1,575.1 L1116.9,571.9 L1117.7,568.7 L1118.5,565.5 L1119.3,562.3 L1120.0,559.1 L1120.8,555.9 L1121.5,552.7 L1122.1,549.5 L1122.7,546.3 L1123.2,543.1 L1123.7,539.9 L1124.1,536.7 L1124.4,533.5 L1124.7,530.4 L1124.9,527.2 L1125.0,524.0 L1125.0,520.8 L1125.0,517.6 L1124.8,514.4 L1124.6,511.2 L1124.3,508.0 L1123.9,504.8 L1123.4,501.6 L1122.8,498.4 L1122.1,495.2 L1121.3,492.0 L1120.3,488.8 L1119.2,485.6 L1118.0,482.4 L1116.7,479.3 L1115.2,476.1 L1113.6,472.9 L1111.8,469.7 L1109.9,466.5 L1107.8,463.3 L1105.6,460.1 L1103.3,456.9 L1100.9,453.7 L1098.3,450.5 L1095.7,447.3 L1092.9,444.1 L1090.1,440.9 L1087.2,437.7 L1084.3,434.5 L1081.5,431.3 L1078.6,428.2 L1075.8,425.0 L1073.0,421.8 L1070.4,418.6 L1067.9,415.4 L1065.6,412.2 L1063.5,409.0 L1061.6,405.8 L1059.9,402.6 L1058.5,399.4 L1057.3,396.2 L1056.5,393.0 L1055.9,389.8 L1055.6,386.6 L1055.7,383.4 L1056.0,380.2 L1056.5,377.1 L1057.3,373.9 L1058.4,370.7 L1059.6,367.5 L1061.0,364.3 L1062.5,361.1 L1064.2,357.9 L1065.8,354.7 L1067.6,351.5 L1069.3,348.3 L1071.1,345.1 L1072.7,341.9 L1074.4,338.7 L1075.9,335.5 L1077.4,332.3 L1078.8,329.1 L1080.1,326.0 L1081.4,322.8 L1082.6,319.6 L1083.7,316.4 L1084.7,313.2 L1085.8,310.0 L1086.8,306.8 L1087.8,303.6 L1088.9,300.4 L1089.9,297.2 L1091.0,294.0 L1092.1,290.8 L1093.2,287.6 L1094.4,284.4 L1095.6,281.2 L1096.8,278.0 L1098.0,274.9 L1099.2,271.7 L1100.4,268.5 L1101.5,265.3 L1102.6,262.1 L1103.6,258.9 L1104.6,255.7 L1105.4,252.5 L1106.2,249.3 L1106.9,246.1 L1107.5,242.9 L1107.9,239.7 L1108.3,236.5 L1108.6,233.3 L1108.8,230.1 L1109.0,226.9 L1109.1,223.8 L1109.2,220.6 L1109.2,217.4 L1109.3,214.2 L1109.3,211.0 L1109.4,207.8 L1109.6,204.6 L1109.8,201.4 L1110.0,199.0 L1144.9,199.0 L1145.0,201.4 L1145.2,204.6 L1145.4,207.8 L1145.5,211.0 L1145.5,214.2 L1145.6,217.4 L1145.6,220.6 L1145.7,223.8 L1145.8,226.9 L1146.0,230.1 L1146.2,233.3 L1146.5,236.5 L1146.9,239.7 L1147.3,242.9 L1147.9,246.1 L1148.6,249.3 L1149.4,252.5 L1150.2,255.7 L1151.2,258.9 L1152.2,262.1 L1153.3,265.3 L1154.5,268.5 L1155.6,271.7 L1156.8,274.9 L1158.0,278.0 L1159.2,281.2 L1160.4,284.4 L1161.6,287.6 L1162.7,290.8 L1163.8,294.0 L1164.9,297.2 L1166.0,300.4 L1167.0,303.6 L1168.0,306.8 L1169.0,310.0 L1170.1,313.2 L1171.2,316.4 L1172.3,319.6 L1173.4,322.8 L1174.7,326.0 L1176.0,329.1 L1177.4,332.3 L1178.9,335.5 L1180.4,338.7 L1182.1,341.9 L1183.8,345.1 L1185.5,348.3 L1187.2,351.5 L1189.0,354.7 L1190.7,357.9 L1192.3,361.1 L1193.8,364.3 L1195.2,367.5 L1196.4,370.7 L1197.5,373.9 L1198.3,377.1 L1198.9,380.2 L1199.2,383.4 L1199.2,386.6 L1198.9,389.8 L1198.3,393.0 L1197.5,396.2 L1196.3,399.4 L1194.9,402.6 L1193.3,405.8 L1191.3,409.0 L1189.2,412.2 L1186.9,415.4 L1184.4,418.6 L1181.8,421.8 L1179.0,425.0 L1176.2,428.2 L1173.4,431.3 L1170.5,434.5 L1167.6,437.7 L1164.7,440.9 L1161.9,444.1 L1159.2,447.3 L1156.5,450.5 L1154.0,453.7 L1151.5,456.9 L1149.2,460.1 L1147.0,463.3 L1144.9,466.5 L1143.0,469.7 L1141.2,472.9 L1139.6,476.1 L1138.1,479.3 L1136.8,482.4 L1135.6,485.6 L1134.5,488.8 L1133.6,492.0 L1132.7,495.2 L1132.0,498.4 L1131.4,501.6 L1130.9,504.8 L1130.5,508.0 L1130.2,511.2 L1130.0,514.4 L1129.9,517.6 L1129.8,520.8 L1129.8,524.0 L1130.0,527.2 L1130.1,530.4 L1130.4,533.5 L1130.7,536.7 L1131.1,539.9 L1131.6,543.1 L1132.1,546.3 L1132.7,549.5 L1133.4,552.7 L1134.0,555.9 L1134.8,559.1 L1135.5,562.3 L1136.3,565.5 L1137.2,568.7 L1138.0,571.9 L1138.8,575.1 L1139.5,578.3 L1140.3,581.5 L1141.0,584.6 L1141.6,587.8 L1142.2,591.0 L1142.7,594.2 L1143.0,597.4 L1143.3,600.6 L1143.5,603.8 L1143.5,607.0Z" fill="#fff" fill-opacity="0.2" stroke="#303030" stroke-width="2.0" stroke-linejoin="round" shape-rendering="crispEdges"/>
<g>
<text x="93.75" y="53.90" font-size="26.67" font-style="italic" fill="#000" xml:space="preserve">F</text>
<text x="115.00" y="59.30" font-size="19.4" fill="#000" xml:space="preserve">Welch</text>
<text x="170.00" y="53.90" font-size="29.870400000000004" class="sf" fill="#000" xml:space="preserve">(</text>
<text x="179.50" y="53.90" font-size="26.67" fill="#000" xml:space="preserve">3, 23.8</text>
<text x="262.80" y="53.90" font-size="29.870400000000004" class="sf" fill="#000" xml:space="preserve">)</text>
<text x="279.00" y="55.70" font-size="26.67" class="sf" fill="#000" xml:space="preserve">=</text>
<text x="302.50" y="53.90" font-size="26.67" fill="#000" xml:space="preserve">10.15,</text>
<text x="384.42" y="53.90" font-size="26.67" font-style="italic" fill="#000" xml:space="preserve">p</text>
<text x="407.00" y="55.70" font-size="26.67" class="sf" fill="#000" xml:space="preserve">=</text>
<text x="430.50" y="53.90" font-size="26.67" fill="#000" xml:space="preserve">1.71e-04,</text>
<text x="550.50" y="53.90" font-size="26.67" class="sf" fill="#000" xml:space="preserve">ω</text>
<text x="568.75" y="38.90" font-size="19.4" fill="#000" xml:space="preserve">2</text>
<text x="569.30" y="64.50" font-size="19.4" fill="#000" xml:space="preserve">p</text>
<path d="M550.2,19.1 Q559.4,17.6 565.1,13.5 Q570.8,17.6 580.0,19.1" fill="none" stroke="#000" stroke-width="2.38" stroke-linejoin="miter" stroke-miterlimit="6"/>
<text x="586.00" y="55.70" font-size="26.67" class="sf" fill="#000" xml:space="preserve">=</text>
<text x="607.50" y="53.90" font-size="26.67" fill="#000" xml:space="preserve">0.50,</text>
<text x="676.00" y="53.90" font-size="26.67" fill="#000" xml:space="preserve">CI</text>
<text x="703.40" y="59.30" font-size="19.4" fill="#000" xml:space="preserve">95%</text>
<text x="750.40" y="53.90" font-size="26.67" fill="#000" xml:space="preserve">[0.21,</text>
<text x="826.60" y="53.90" font-size="26.67" fill="#000" xml:space="preserve">1.00],</text>
<text x="902.30" y="53.90" font-size="26.67" font-style="italic" fill="#000" xml:space="preserve">n</text>
<text x="919.00" y="59.30" font-size="19.4" fill="#000" xml:space="preserve">obs</text>
<text x="957.00" y="55.70" font-size="26.67" class="sf" fill="#000" xml:space="preserve">=</text>
<text x="978.60" y="53.90" font-size="26.67" fill="#000" xml:space="preserve">322</text>
</g>
<g>
<text x="454.33" y="103.20" font-size="23.15" font-style="italic" fill="#000" xml:space="preserve">p</text>
<text x="469.50" y="107.80" font-size="16.2" fill="#000" xml:space="preserve">FDR−adj.</text>
<text x="541.30" y="104.70" font-size="23.15" class="sf" fill="#000" xml:space="preserve">=</text>
<text x="560.50" y="103.20" font-size="23.15" fill="#000" xml:space="preserve">5.19e-06</text>
<path d="M265.9,125 V118 H840.2 V125" fill="none" stroke="#000" stroke-width="2.1"/>
</g>
<g>
<text x="81.20" y="783.60" font-size="21.33" text-anchor="end" fill="#4D4D4D" xml:space="preserve">20</text>
<text x="81.20" y="623.60" font-size="21.33" text-anchor="end" fill="#4D4D4D" xml:space="preserve">40</text>
<text x="81.20" y="463.60" font-size="21.33" text-anchor="end" fill="#4D4D4D" xml:space="preserve">60</text>
<text x="81.20" y="303.60" font-size="21.33" text-anchor="end" fill="#4D4D4D" xml:space="preserve">80</text>
<text x="81.20" y="143.60" font-size="21.33" text-anchor="end" fill="#4D4D4D" xml:space="preserve">100</text>
</g>
<g>
<text x="265.90" y="828.70" font-size="21.33" text-anchor="middle" fill="#4D4D4D" xml:space="preserve">Chinese</text>
<text x="265.90" y="851.90" font-size="21.33" text-anchor="middle" fill="#4D4D4D" xml:space="preserve">(n = 193)</text>
<text x="553.07" y="828.70" font-size="21.33" text-anchor="middle" fill="#4D4D4D" xml:space="preserve">Indian</text>
<text x="553.07" y="851.90" font-size="21.33" text-anchor="middle" fill="#4D4D4D" xml:space="preserve">(n = 12)</text>
<text x="840.24" y="828.70" font-size="21.33" text-anchor="middle" fill="#4D4D4D" xml:space="preserve">Malay</text>
<text x="840.24" y="851.90" font-size="21.33" text-anchor="middle" fill="#4D4D4D" xml:space="preserve">(n = 108)</text>
<text x="1127.41" y="828.70" font-size="21.33" text-anchor="middle" fill="#4D4D4D" xml:space="preserve">Others</text>
<text x="1127.41" y="851.90" font-size="21.33" text-anchor="middle" fill="#4D4D4D" xml:space="preserve">(n = 9)</text>
</g>
<g transform="translate(696.4,883) scale(1,1.06)"><text x="0.00" y="0.00" font-size="26.67" font-weight="bold" text-anchor="middle" fill="#000" xml:space="preserve">RACE</text></g>
<g transform="translate(35,442.2) rotate(-90) scale(1,1.06)"><text x="0.00" y="0.00" font-size="26.67" font-weight="bold" text-anchor="middle" fill="#000" xml:space="preserve">ENGLISH</text></g>
<g transform="translate(1308.6,0) rotate(90)">
<text x="187.00" y="0.00" font-size="21.33" fill="#000" xml:space="preserve">Pairwise test:</text>
<text x="320.40" y="0.00" font-size="21.33" font-weight="bold" fill="#000" xml:space="preserve">Games-Howell</text>
<text x="461.30" y="0.00" font-size="21.33" fill="#000" xml:space="preserve">,</text>
<text x="471.80" y="0.00" font-size="21.33" fill="#000" xml:space="preserve">Bars shown:</text>
<text x="594.00" y="0.00" font-size="21.33" font-weight="bold" fill="#000" xml:space="preserve">significant</text>
</g>
<g>
<text x="657.00" y="933.30" font-size="21.33" fill="#000" xml:space="preserve">log</text>
<text x="684.00" y="935.90" font-size="14.5" fill="#000" xml:space="preserve">e</text>
<text x="693.20" y="933.30" font-size="23.8896" class="sf" fill="#000" xml:space="preserve">(</text>
<text x="700.80" y="933.30" font-size="21.33" fill="#000" xml:space="preserve">BF</text>
<text x="729.00" y="936.50" font-size="14.5" fill="#000" xml:space="preserve">01</text>
<text x="745.00" y="933.30" font-size="23.8896" class="sf" fill="#000" xml:space="preserve">)</text>
<text x="758.40" y="934.50" font-size="21.33" class="sf" fill="#000" xml:space="preserve">=</text>
<text x="775.70" y="933.30" font-size="21.33" fill="#000" xml:space="preserve">-11.63,</text>
<text x="848.20" y="933.30" font-size="21.33" font-style="italic" fill="#000" xml:space="preserve">R</text>
<text x="864.70" y="923.10" font-size="14.5" fill="#000" xml:space="preserve">2</text>
<text x="875.20" y="919.90" font-size="14.5" fill="#000" xml:space="preserve">posterior</text>
<text x="873.90" y="938.10" font-size="14.5" fill="#000" xml:space="preserve">Bayesian</text>
<path d="M845.6,905.5 Q854.4,904.2 859.8,900.4 Q865.1,904.2 873.9,905.5" fill="none" stroke="#000" stroke-width="1.87" stroke-linejoin="miter" stroke-miterlimit="6"/>
<text x="938.60" y="934.50" font-size="21.33" class="sf" fill="#000" xml:space="preserve">=</text>
<text x="955.10" y="933.30" font-size="21.33" fill="#000" xml:space="preserve">0.09,</text>
<text x="1006.40" y="933.30" font-size="21.33" fill="#000" xml:space="preserve">CI</text>
<text x="1027.90" y="921.40" font-size="14.5" fill="#000" xml:space="preserve">HDI</text>
<text x="1027.40" y="938.90" font-size="14.5" fill="#000" xml:space="preserve">95%</text>
<text x="1062.20" y="933.30" font-size="21.33" fill="#000" xml:space="preserve">[0.04, 0.15],</text>
<text x="1178.50" y="933.30" font-size="21.33" font-style="italic" fill="#000" xml:space="preserve">r</text>
<text x="1189.00" y="921.40" font-size="14.5" fill="#000" xml:space="preserve">JZS</text>
<text x="1186.60" y="938.10" font-size="14.5" fill="#000" xml:space="preserve">Cauchy</text>
<text x="1241.30" y="934.50" font-size="21.33" class="sf" fill="#000" xml:space="preserve">=</text>
<text x="1258.60" y="933.30" font-size="21.33" fill="#000" xml:space="preserve">0.71</text>
</g>
<circle cx="265.9" cy="368.9" r="14.8" fill="#8B0000"/>
<circle cx="553.1" cy="449.0" r="14.8" fill="#8B0000"/>
<circle cx="840.2" cy="444.8" r="14.8" fill="#8B0000"/>
<circle cx="1127.4" cy="374.1" r="14.8" fill="#8B0000"/>
<path d="M269.7,368.9H274.6M279.9,368.9H282.7M287.7,368.9H296.5M301.8,368.9H304.3" stroke="#000" stroke-width="2" fill="none"/>
<path d="M556.9,449.0H561.8M567.1,449.0H569.9M574.9,449.0H583.7M589.0,449.0H591.6" stroke="#000" stroke-width="2" fill="none"/>
<path d="M844.0,444.8H848.9M854.2,444.8H857.0M862.0,444.8H870.8M876.1,444.8H878.8" stroke="#000" stroke-width="2" fill="none"/>
<path d="M1133.9,374.1H1136.2" stroke="#000" stroke-width="2" fill="none"/>
<rect x="304.3" y="346.4" width="154" height="45.8" rx="5" ry="5" fill="#fff" stroke="#000" stroke-width="1.3"/>
<text x="314.00" y="378.60" font-size="23.0" class="sf" fill="#000" xml:space="preserve">μ</text>
<text x="327.20" y="382.10" font-size="15.9" fill="#000" xml:space="preserve">mean</text>
<path d="M312.7,361.3 Q317.5,360.1 320.4,356.8 Q323.3,360.1 328.1,361.3" fill="none" stroke="#000" stroke-width="2.04" stroke-linejoin="miter" stroke-miterlimit="6"/>
<text x="372.00" y="379.00" font-size="23.0" class="sf" fill="#000" xml:space="preserve">=</text>
<text x="390.30" y="378.00" font-size="23.0" fill="#000" xml:space="preserve">70.76</text>
<rect x="591.6" y="426.6" width="154" height="45.8" rx="5" ry="5" fill="#fff" stroke="#000" stroke-width="1.3"/>
<text x="601.30" y="458.80" font-size="23.0" class="sf" fill="#000" xml:space="preserve">μ</text>
<text x="614.50" y="462.30" font-size="15.9" fill="#000" xml:space="preserve">mean</text>
<path d="M600.0,441.5 Q604.8,440.3 607.7,437.0 Q610.6,440.3 615.4,441.5" fill="none" stroke="#000" stroke-width="2.04" stroke-linejoin="miter" stroke-miterlimit="6"/>
<text x="659.30" y="459.20" font-size="23.0" class="sf" fill="#000" xml:space="preserve">=</text>
<text x="677.60" y="458.20" font-size="23.0" fill="#000" xml:space="preserve">60.75</text>
<rect x="878.8" y="422.3" width="154" height="45.8" rx="5" ry="5" fill="#fff" stroke="#000" stroke-width="1.3"/>
<text x="888.45" y="454.50" font-size="23.0" class="sf" fill="#000" xml:space="preserve">μ</text>
<text x="901.65" y="458.00" font-size="15.9" fill="#000" xml:space="preserve">mean</text>
<path d="M887.1,437.2 Q891.9,436.0 894.8,432.7 Q897.8,436.0 902.5,437.2" fill="none" stroke="#000" stroke-width="2.04" stroke-linejoin="miter" stroke-miterlimit="6"/>
<text x="946.45" y="454.90" font-size="23.0" class="sf" fill="#000" xml:space="preserve">=</text>
<text x="964.75" y="453.90" font-size="23.0" fill="#000" xml:space="preserve">61.27</text>
<rect x="1136.2" y="352.3" width="154" height="45.8" rx="5" ry="5" fill="#fff" stroke="#000" stroke-width="1.3"/>
<text x="1145.95" y="384.50" font-size="23.0" class="sf" fill="#000" xml:space="preserve">μ</text>
<text x="1159.15" y="388.00" font-size="15.9" fill="#000" xml:space="preserve">mean</text>
<path d="M1144.7,367.2 Q1149.4,366.0 1152.3,362.7 Q1155.3,366.0 1160.0,367.2" fill="none" stroke="#000" stroke-width="2.04" stroke-linejoin="miter" stroke-miterlimit="6"/>
<text x="1203.95" y="384.90" font-size="23.0" class="sf" fill="#000" xml:space="preserve">=</text>
<text x="1222.25" y="383.90" font-size="23.0" fill="#000" xml:space="preserve">70.11</text>
</svg>
</body></html>
